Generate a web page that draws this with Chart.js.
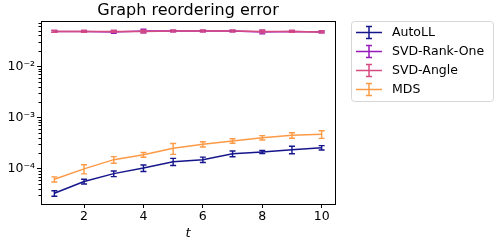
<!DOCTYPE html>
<html>
<head>
<meta charset="utf-8">
<script src="https://cdn.jsdelivr.net/npm/chart.js@4/dist/chart.umd.min.js"></script>
<style>
  html, body { margin: 0; padding: 0; background: #fff; }
  canvas { display: block; }
</style>
</head>
<body>
<canvas id="chart" width="499" height="243"></canvas>
<script>
// t values along the x axis
let tValues = [1, 2, 3, 4, 5, 6, 7, 8, 9, 10];
let xTicks = [2, 4, 6, 8, 10];

let seriesNames = ['AutoLL', 'SVD-Rank-One', 'SVD-Angle', 'MDS'];
let seriesColors = ['#16168c', '#9619b8', '#d64b80', '#fd9a46'];

let autollValues = [3.3e-5, 5.6e-5, 8.0e-5, 1.03e-4, 1.37e-4, 1.5e-4, 1.96e-4, 2.12e-4, 2.35e-4, 2.57e-4];
let autollErrors = [0.4e-5, 0.6e-5, 1.0e-5, 1.5e-5, 2.2e-5, 1.8e-5, 2.5e-5, 1.4e-5, 4.0e-5, 2.5e-5];

let rankOneValues = [0.048, 0.048, 0.047, 0.049, 0.049, 0.049, 0.049, 0.047, 0.048, 0.047];
let rankOneErrors = [0.002, 0.002, 0.003, 0.004, 0.002, 0.002, 0.002, 0.004, 0.002, 0.002];

let angleValues = [0.048, 0.048, 0.048, 0.048, 0.049, 0.049, 0.049, 0.048, 0.048, 0.047];
let angleErrors = [0.002, 0.002, 0.002, 0.003, 0.002, 0.002, 0.002, 0.003, 0.002, 0.002];

let mdsValues = [6.2e-5, 9.9e-5, 1.5e-4, 1.87e-4, 2.5e-4, 3.0e-4, 3.48e-4, 4.03e-4, 4.48e-4, 4.7e-4];
let mdsErrors = [0.7e-5, 2.0e-5, 2.2e-5, 2.0e-5, 6.0e-5, 3.5e-5, 3.5e-5, 4.0e-5, 5.5e-5, 8.0e-5];

let allValues = [autollValues, rankOneValues, angleValues, mdsValues];
let allErrors = [autollErrors, rankOneErrors, angleErrors, mdsErrors];

let superDigits = { '0': '⁰', '1': '¹', '2': '²', '3': '³', '4': '⁴', '5': '⁵', '-': '⁻' };

function isPow10(v) {
    let l = Math.log10(v);
    return Math.abs(l - Math.round(l)) < 1e-9;
}

function powLabel(v) {
    let e = String(Math.round(Math.log10(v)));
    return '10' + e.split('').map(c => superDigits[c]).join('');
}

let font = 'DejaVu Sans';

let datasets = seriesNames.map(function(name, i) {
    return {
        label: name,
        data: tValues.map((t, j) => ({ x: t, y: allValues[i][j] })),
        borderColor: seriesColors[i],
        backgroundColor: seriesColors[i],
        borderWidth: 1.5,
        pointRadius: 0,
        tension: 0,
        order: seriesNames.length - i,
        errors: allErrors[i]
    };
});

// error bars, frame, minor ticks, title and legend
let extrasPlugin = {
    id: 'extras',
    afterDatasetsDraw: function(chart) {
        let ctx = chart.ctx;
        let xs = chart.scales.x;
        let ys = chart.scales.y;
        ctx.save();
        for (let i = 0; i < chart.data.datasets.length; i++) {
            let ds = chart.data.datasets[i];
            ctx.strokeStyle = ds.borderColor;
            ctx.lineWidth = 1.4;
            for (let j = 0; j < ds.data.length; j++) {
                let p = ds.data[j];
                let px = xs.getPixelForValue(p.x);
                let top = ys.getPixelForValue(p.y + ds.errors[j]);
                let bot = ys.getPixelForValue(p.y - ds.errors[j]);
                ctx.beginPath();
                ctx.moveTo(px, top);
                ctx.lineTo(px, bot);
                ctx.moveTo(px - 3, top);
                ctx.lineTo(px + 3, top);
                ctx.moveTo(px - 3, bot);
                ctx.lineTo(px + 3, bot);
                ctx.stroke();
            }
        }
        ctx.restore();
    },
    afterDraw: function(chart) {
        let ctx = chart.ctx;
        let a = chart.chartArea;
        let ys = chart.scales.y;
        ctx.save();

        // frame
        ctx.strokeStyle = '#000';
        ctx.lineWidth = 1;
        ctx.strokeRect(Math.round(a.left) + 0.5, Math.round(a.top) + 0.5,
            Math.round(a.right - a.left), Math.round(a.bottom - a.top));

        // minor y ticks
        ys.ticks.forEach(function(t) {
            if (isPow10(t.value)) return;
            let py = Math.round(ys.getPixelForValue(t.value)) + 0.5;
            ctx.beginPath();
            ctx.moveTo(a.left, py);
            ctx.lineTo(a.left - 2.5, py);
            ctx.stroke();
        });

        // title
        ctx.fillStyle = '#000';
        ctx.font = '16px "' + font + '"';
        ctx.textAlign = 'center';
        ctx.textBaseline = 'middle';
        ctx.fillText('Graph reordering error', (a.left + a.right) / 2, 11);

        // legend
        let lx = 351, ly = 21, lw = 142, lh = 80;
        ctx.beginPath();
        ctx.roundRect(lx + 0.5, ly + 0.5, lw, lh, 3);
        ctx.fillStyle = 'rgba(255,255,255,0.8)';
        ctx.fill();
        ctx.strokeStyle = '#d6d6d6';
        ctx.stroke();

        ctx.font = '12.5px "' + font + '"';
        ctx.textAlign = 'left';
        for (let i = 0; i < seriesNames.length; i++) {
            let cy = 32.5 + i * 19;
            ctx.strokeStyle = seriesColors[i];
            ctx.lineWidth = 1.5;
            ctx.beginPath();
            ctx.moveTo(356, cy);
            ctx.lineTo(382, cy);
            ctx.moveTo(369, cy - 6);
            ctx.lineTo(369, cy + 6);
            ctx.moveTo(366, cy - 6);
            ctx.lineTo(372, cy - 6);
            ctx.moveTo(366, cy + 6);
            ctx.lineTo(372, cy + 6);
            ctx.stroke();
            ctx.fillStyle = '#000';
            ctx.fillText(seriesNames[i], 392, cy + 0.5);
        }
        ctx.restore();
    }
};

let config = {
    type: 'line',
    data: { datasets: datasets },
    options: {
        responsive: false,
        animation: false,
        devicePixelRatio: 1,
        layout: { padding: { top: 21, right: 164, left: 0, bottom: 0 } },
        plugins: {
            legend: { display: false },
            tooltip: { enabled: false }
        },
        scales: {
            x: {
                type: 'linear',
                min: 0.55,
                max: 10.45,
                afterBuildTicks: function(scale) {
                    scale.ticks = xTicks.map(v => ({ value: v }));
                },
                afterFit: function(scale) { scale.height = 39; },
                border: { display: false },
                grid: {
                    drawOnChartArea: false,
                    drawTicks: true,
                    tickLength: 4,
                    color: '#000'
                },
                ticks: {
                    color: '#000',
                    padding: 1,
                    maxRotation: 0,
                    font: { family: font, size: 12.5 }
                },
                title: {
                    display: true,
                    text: 't',
                    color: '#000',
                    padding: { top: 0, bottom: 2 },
                    font: { family: font, size: 13, style: 'italic' }
                }
            },
            y: {
                type: 'logarithmic',
                min: 2.04e-5,
                max: 0.0768,
                afterBuildTicks: function(scale) {
                    let list = [];
                    for (let e = -5; e <= -1; e++) {
                        for (let k = 1; k <= 9; k++) {
                            let v = k * Math.pow(10, e);
                            if (v >= scale.min && v <= scale.max) list.push({ value: v });
                        }
                    }
                    scale.ticks = list;
                },
                afterFit: function(scale) { scale.width = 41; },
                border: { display: false },
                grid: {
                    drawOnChartArea: false,
                    drawTicks: true,
                    tickLength: 4,
                    color: function(c) {
                        return c.tick && isPow10(c.tick.value) ? '#000' : 'rgba(0,0,0,0)';
                    }
                },
                ticks: {
                    color: '#000',
                    padding: 2,
                    autoSkip: false,
                    font: { family: font, size: 12.5 },
                    callback: function(v) {
                        return isPow10(v) ? powLabel(v) : '';
                    }
                }
            }
        }
    },
    plugins: [extrasPlugin]
};

let myChart = new Chart(document.getElementById('chart'), config);
</script>
</body>
</html>
